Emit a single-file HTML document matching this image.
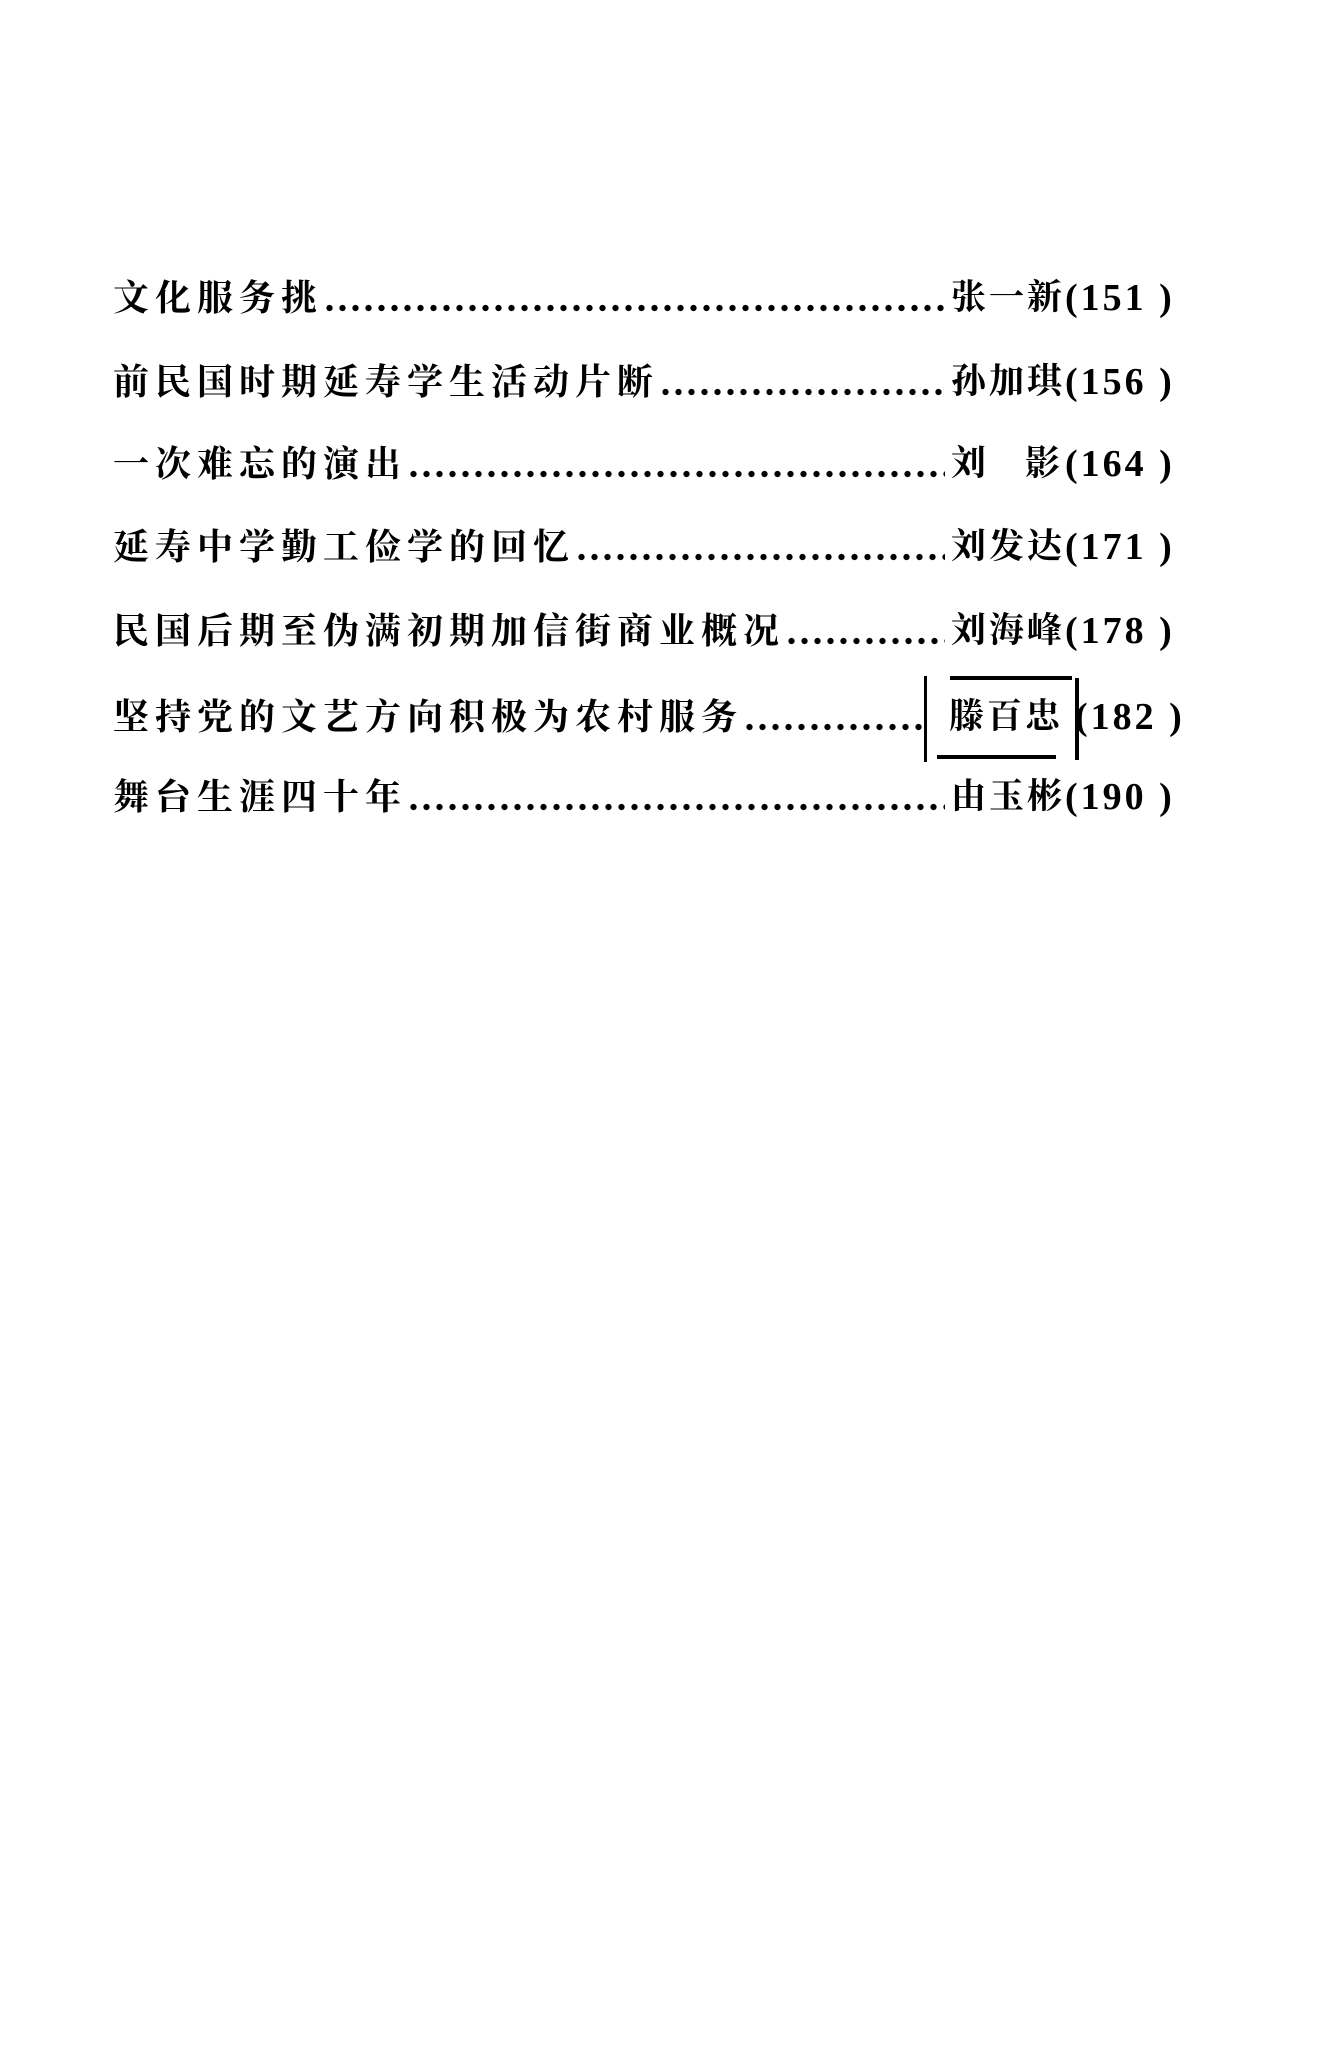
<!DOCTYPE html>
<html><head><meta charset="utf-8">
<style>
html,body{margin:0;padding:0;background:#fff;}
body{width:1320px;height:2045px;position:relative;overflow:hidden;
font-family:"Liberation Serif","Noto Serif CJK SC",serif;color:#000;}
.row{position:absolute;left:113px;width:1080px;height:44px;display:flex;align-items:center;}
.t{font-size:36px;letter-spacing:6px;font-weight:700;white-space:nowrap;line-height:44px;}
.d{flex:1;height:44px;margin:0 6px 0 0;
background-image:radial-gradient(circle,#000 2.8px,transparent 3.4px);
background-size:13px 12px;background-repeat:repeat-x;background-position:0 26px;}
.a{width:114px;font-size:35px;font-weight:700;white-space:nowrap;letter-spacing:3px;line-height:44px;overflow:hidden;}
.p{width:128px;font-size:38px;font-weight:700;white-space:nowrap;line-height:44px;letter-spacing:3px;}
.bar{position:absolute;background:#000;}
</style></head><body>
<div class="row" style="top:276px"><span class="t">文化服务挑</span><span class="d"></span><span class="a">张一新</span><span class="p">(151&nbsp;)</span></div>
<div class="row" style="top:360px"><span class="t">前民国时期延寿学生活动片断</span><span class="d"></span><span class="a">孙加琪</span><span class="p">(156&nbsp;)</span></div>
<div class="row" style="top:442px"><span class="t">一次难忘的演出</span><span class="d"></span><span class="a">刘<span style="display:inline-block;width:36px"></span>影</span><span class="p">(164&nbsp;)</span></div>
<div class="row" style="top:525px"><span class="t">延寿中学勤工俭学的回忆</span><span class="d"></span><span class="a">刘发达</span><span class="p">(171&nbsp;)</span></div>
<div class="row" style="top:609px"><span class="t">民国后期至伪满初期加信街商业概况</span><span class="d"></span><span class="a">刘海峰</span><span class="p">(178&nbsp;)</span></div>
<div class="row" style="top:695px"><span class="t">坚持党的文艺方向积极为农村服务</span><span class="d" style="margin-right:22px"></span><span class="a" style="width:122px">滕百忠</span><span class="p" style="width:118px;padding-left:4px">(182&nbsp;)</span></div>
<div class="row" style="top:775px"><span class="t">舞台生涯四十年</span><span class="d"></span><span class="a">由玉彬</span><span class="p">(190&nbsp;)</span></div>
<div class="bar" style="left:924px;top:676px;width:3px;height:86px"></div>
<div class="bar" style="left:1075px;top:678px;width:4px;height:82px"></div>
<div class="bar" style="left:950px;top:676px;width:122px;height:4px"></div>
<div class="bar" style="left:937px;top:755px;width:119px;height:4px"></div>
</body></html>
